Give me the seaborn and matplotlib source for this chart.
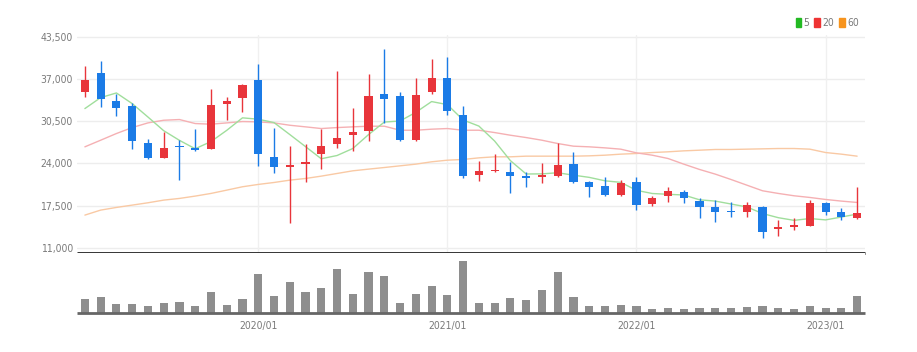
import matplotlib
matplotlib.use("Agg")
import matplotlib.pyplot as plt
from matplotlib.patches import Patch
import numpy as np
import pandas as pd
import seaborn as sns

# monthly candles 2019/02 .. 2023/03
months = pd.period_range("2019-02", periods=50, freq="M").strftime("%Y/%m").tolist()

opens = [35030, 37950, 33590, 32870, 27170, 24910, 26760, 26400, 26300, 33230,
         34150, 36830, 25020, 23420, 23890, 25430, 26920, 28350, 28970, 34770,
         34460, 27580, 34980, 37240, 31490, 22190, 22810, 22710, 22090, 21830,
         22090, 23890, 21060, 20500, 19110, 21060, 17730, 18960, 19630, 18240,
         17210, 16650, 16440, 17320, 13820, 14130, 14390, 17830, 16440, 15520]
highs = [38980, 39750, 34670, 33380, 27840, 28870, 27690, 29380, 35540, 34260,
         36210, 39290, 29530, 26660, 26970, 29380, 38260, 32610, 37750, 41700,
         35080, 37240, 40160, 40420, 32820, 24400, 25430, 24250, 22710, 24090,
         27170, 25790, 21270, 21940, 21520, 21830, 19010, 20290, 19880, 18600,
         18340, 17980, 18090, 17400, 15260, 15520, 18340, 18090, 17060, 20400]
lows = [34260, 32720, 31280, 26150, 24610, 24800, 21420, 25940, 26200, 30770,
        31950, 23630, 22550, 14850, 21170, 23070, 26400, 25940, 27480, 30250,
        27400, 27400, 34770, 31430, 21680, 21320, 22650, 19370, 20400, 20910,
        21830, 20910, 18750, 18960, 18960, 16800, 17470, 18090, 17930, 15520,
        15010, 15780, 15780, 12440, 12800, 13720, 14300, 16030, 15260, 15420]
closes = [36930, 33950, 32560, 27430, 24910, 26400, 26510, 26040, 32970, 33590,
          36050, 25430, 23480, 23730, 24250, 26710, 27940, 28870, 34460, 33900,
          27580, 34570, 37180, 32100, 22090, 22860, 23010, 22090, 21780, 22190,
          23730, 21170, 20400, 19110, 21010, 17570, 18700, 19780, 18600, 17320,
          16550, 16440, 17570, 13460, 14130, 14490, 17830, 16550, 15670, 16390]

ma5 = [32460, 34150, 34870, 33230, 31160, 29050, 27560, 26260, 27370, 29100,
       31030, 30820, 30300, 28460, 26590, 24720, 25220, 26300, 28450, 30380,
       30550, 31880, 33540, 33070, 30700, 29760, 27450, 24430, 22370, 22390,
       22560, 22190, 21850, 21320, 21080, 19850, 19360, 19240, 19130, 18390,
       18190, 17740, 17290, 16270, 15630, 15220, 15500, 15290, 15730, 16190]
ma20 = [26560, 27580, 28610, 29530, 30250, 30660, 30770, 30150, 30050, 30250,
        30460, 30410, 30250, 29890, 29640, 29380, 29530, 29640, 29740, 29740,
        29120, 29120, 29280, 29380, 29120, 29120, 28760, 28350, 27990, 27580,
        27070, 26660, 26560, 26400, 26200, 25630, 25270, 24760, 23890, 23070,
        22350, 21520, 20650, 19780, 19370, 19010, 18750, 18440, 18190, 17980]
ma60 = [16030, 16800, 17210, 17570, 17930, 18340, 18600, 18960, 19370, 19880,
        20400, 20760, 21060, 21420, 21680, 22040, 22450, 22860, 23120, 23370,
        23630, 23890, 24250, 24500, 24610, 24860, 25020, 25020, 25120, 25120,
        25120, 25120, 25170, 25270, 25430, 25530, 25680, 25790, 25940, 26040,
        26150, 26150, 26200, 26250, 26300, 26300, 26200, 25680, 25430, 25120]

volume = [430, 480, 260, 260, 200, 300, 330, 220, 640, 250,
          430, 1160, 500, 920, 640, 740, 1320, 580, 1220, 1110,
          300, 580, 820, 550, 1560, 310, 310, 450, 380, 680,
          1220, 480, 210, 210, 250, 210, 110, 160, 110, 150,
          160, 150, 190, 210, 150, 110, 210, 160, 150, 500]

price_ticks = [11000, 17500, 24000, 30500, 37000, 43500]
year_ticks = ["2020/01", "2021/01", "2022/01", "2023/01"]

UP, DOWN = "#e8353b", "#1b7be6"
TXT = "#7a7a7a"

sns.set_style("white")
plt.rcParams["font.family"] = ["Liberation Sans Narrow", "DejaVu Sans"]
plt.rcParams["font.stretch"] = "condensed"

df = pd.DataFrame({"Month": months, "Open": opens, "High": highs, "Low": lows,
                   "Close": closes, "MA5": ma5, "MA20": ma20, "MA60": ma60,
                   "Volume": volume})
df["x"] = np.arange(len(df))
df["up"] = df["Close"] >= df["Open"]
df["color"] = np.where(df["up"], UP, DOWN)
df["body_lo"] = df[["Open", "Close"]].min(axis=1)
df["body_h"] = (df["Close"] - df["Open"]).abs().clip(lower=120)

fig = plt.figure(figsize=(9.17, 3.52), dpi=100)
ax = fig.add_axes([77 / 917, 1 - 253 / 352, 788 / 917, 218 / 352])
axv = fig.add_axes([77 / 917, 1 - 313 / 352, 788 / 917, 60 / 352])

year_pos = [df.index[df["Month"] == m][0] for m in year_ticks]

# grid
for v in price_ticks:
    ax.axhline(v, color="#ededed", lw=1, zorder=0)
for p in year_pos:
    ax.axvline(p, color="#f0f0f0", lw=1, zorder=0)

# moving averages
sns.lineplot(x=df["x"], y=df["MA60"], ax=ax, color="#f9c9a4", lw=1.0, zorder=1)
sns.lineplot(x=df["x"], y=df["MA20"], ax=ax, color="#f5b0b3", lw=1.0, zorder=1)
sns.lineplot(x=df["x"], y=df["MA5"], ax=ax, color="#a0de9c", lw=1.0, zorder=1)

# candles
ax.vlines(df["x"], df["Low"], df["High"], colors=df["color"], lw=1, zorder=2)
ax.bar(df["x"], df["body_h"], bottom=df["body_lo"], width=0.52,
       color=df["color"], edgecolor="none", zorder=3)

ax.set_xlim(-0.5, len(df) - 0.5)
ax.set_ylim(10184, 43808)
ax.set_yticks(price_ticks)
ax.set_yticklabels([f"{v:,}" for v in price_ticks])
ax.set_xticks([])
ax.set_xlabel("")
ax.set_ylabel("")
ax.tick_params(axis="y", length=0, pad=3, labelsize=7.5, labelcolor=TXT)
sns.despine(ax=ax, left=True, bottom=True)
# separator between price and volume panels
ax.plot([0, 1], [0, 0], transform=ax.transAxes, color="#222222", lw=2,
        solid_capstyle="butt", clip_on=False, zorder=5)

leg = ax.legend(handles=[Patch(color="#22b922", label="5"),
                         Patch(color="#ee3333", label="20"),
                         Patch(color="#f7941d", label="60")],
                loc="center right", bbox_to_anchor=(864 / 917, 1 - 23 / 352),
                bbox_transform=fig.transFigure, ncol=3, frameon=False,
                handlelength=0.55, handleheight=1.0, handletextpad=0.2,
                columnspacing=0.5, fontsize=7.5, borderpad=0)
for t in leg.get_texts():
    t.set_color(TXT)

# volume
sns.barplot(x=df["x"], y=df["Volume"], ax=axv, native_scale=True, width=0.52,
            color="#8e8e8e", saturation=1, edgecolor="none", zorder=2)
axv.set_xlim(-0.5, len(df) - 0.5)
axv.set_ylim(0, 1800)
axv.set_yticks([])
axv.set_xticks(year_pos)
axv.set_xticklabels(year_ticks)
axv.set_xlabel("")
axv.set_ylabel("")
axv.tick_params(axis="x", length=3, width=1, color="#333333", pad=3,
                labelsize=7.5, labelcolor=TXT)
sns.despine(ax=axv, left=True)
axv.spines["bottom"].set_color("#666666")
axv.spines["bottom"].set_linewidth(2)
axv.spines["bottom"].set_capstyle("butt")

fig.savefig("out.png", dpi=100)
